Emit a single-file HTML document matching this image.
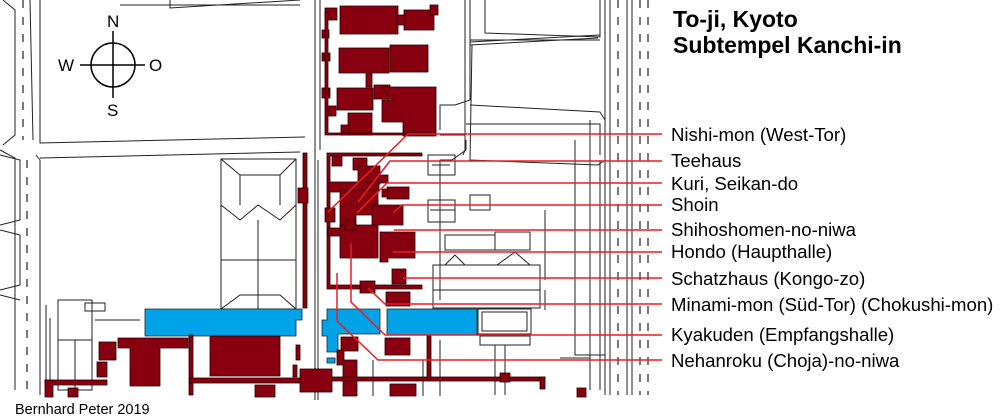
<!DOCTYPE html>
<html><head><meta charset="utf-8"><style>
html,body{margin:0;padding:0;background:#fff}
svg{display:block}
text{font-family:"Liberation Sans",Arial,sans-serif}
</style></head><body>
<svg width="1000" height="419" viewBox="0 0 1000 419" xmlns="http://www.w3.org/2000/svg">
<rect width="1000" height="419" fill="#fff"/>
<g fill="none" stroke="#222" stroke-width="1">
<path d="M3 0L15 10V135L3 145M30 0L33 140M40 0V143L305 137"/>
<path d="M0 150L15 158V390M36 155L40 160V395"/>
<path d="M40 158L300 152"/>
<path d="M0 155L20 160V220L0 225M0 230L20 235V285L0 290M0 295L20 300"/>
<path d="M315 0V400M320 0V150M318 160V400"/>
<path d="M470 0V100L455 105H440V130M465 0V135H440"/>
<path d="M470 45L598 38M470 42L600 35"/>
<path d="M470 40L600 40M470 105L600 112L605 120V160L598 165L470 160L472 45"/>
<path d="M485 0V33L600 37V0"/>
<path d="M466 140V150L452 160H440V300"/>
<path d="M465 125V150L463 155"/>
<path d="M466 124H600V155"/>
<path d="M590 120V390M600 160V390"/>
<path d="M605 0V395M610 0V395M627 0V395M632 0V395"/>
<path d="M170 0V8L300 0M120 5H300"/>
<path d="M221 159H296V309H221Z M221 159L240 175H280L296 159M221 205L240 220L258 205L280 220L296 205M240 175V205M258 220V309M280 175V205M221 260H296M221 309L240 295H280L296 309"/>
<path d="M58 300H92V340H58Z M58 340H92V390H58ZM75 340V390M95 320H140M50 318V395M46 305V395"/>
<path d="M428 155H455V175H428ZM432 165H450"/>
<path d="M428 200H455V222H428Z M470 195H490V210H470Z M430 210H455"/>
<path d="M445 235H495V250H445ZM495 232H530V250H495Z"/>
<path d="M433 265H540V308H433ZM433 290H540M445 265L455 255L465 265M497 265L515 252L530 265"/>
<path d="M478 309H531V334H478ZM482 312H527V331H482Z"/>
<path d="M480 336H530V345H480ZM505 345V395M495 345V395"/>
<path d="M545 210V280M545 290V310"/>
<path d="M575 140V355H605"/>
<path d="M560 358H590"/>
<path d="M85 303H105V311H85Z"/>
<path d="M423 360V396M440 340V396M373 360V396"/>
</g>
<g stroke="#222" stroke-width="1.2" stroke-dasharray="8,9" fill="none">
<path d="M618 0V395M640 0V395M648 0V395M23 0V140M27 160V395"/>
</g>
<g fill="#00a2e8" stroke="#222" stroke-width="0.8">
<path d="M145 309H302V320L296 320V336H145Z"/>
<path d="M327 309H380V334H338V352H327V336L322 336V320L327 320Z"/>
<rect x="387" y="309" width="90" height="26"/>
<rect x="327" y="358" width="8" height="5"/>
</g>
<g fill="#880010" stroke="#2a0000" stroke-width="0.8">
<rect x="340" y="6" width="58" height="28"/>
<rect x="404" y="10" width="30" height="20"/>
<rect x="397" y="15" width="8" height="10"/>
<rect x="325" y="8" width="12" height="12"/>
<rect x="430" y="5" width="8" height="10"/>
<rect x="339" y="48" width="50" height="25"/>
<rect x="390" y="45" width="38" height="27"/>
<rect x="366" y="72" width="6" height="15"/>
<rect x="337" y="88" width="36" height="22"/>
<rect x="374" y="85" width="16" height="14"/>
<path d="M382 87H436V136H403V122H382V100H392Z"/>
<rect x="348" y="113" width="24" height="22"/>
<rect x="341" y="125" width="8" height="10"/>
<rect x="322" y="30" width="7" height="8"/>
<rect x="322" y="53" width="8" height="8"/>
<rect x="322" y="88" width="8" height="10"/>
<rect x="328" y="106" width="8" height="10"/>
<path d="M325 12V135H436V133H328V12Z"/>
<path d="M327 153H422V156H330V285H422V289H327Z"/>
<rect x="332" y="156" width="10" height="10"/>
<rect x="353" y="158" width="14" height="12"/>
<rect x="358" y="166" width="22" height="18"/>
<rect x="378" y="175" width="10" height="8"/>
<rect x="329" y="182" width="50" height="10"/>
<path d="M340 190H378V215H356V228H340Z"/>
<rect x="387" y="187" width="22" height="12"/>
<rect x="382" y="189" width="6" height="8"/>
<path d="M372 205H403V225H372Z"/>
<rect x="325" y="208" width="10" height="14"/>
<path d="M340 225H378V258H340Z"/>
<path d="M345 220H355V230H345Z"/>
<rect x="328" y="228" width="12" height="8"/>
<path d="M380 232H415V258H388V262H380Z"/>
<rect x="392" y="269" width="14" height="15"/>
<rect x="360" y="281" width="15" height="12"/>
<rect x="386" y="292" width="24" height="14"/>
<rect x="303" y="153" width="4" height="155"/>
<rect x="298" y="188" width="10" height="15"/>
<rect x="341" y="337" width="17" height="14"/>
<rect x="337" y="350" width="7" height="15"/>
<rect x="343" y="360" width="14" height="36"/>
<rect x="300" y="369" width="32" height="23"/>
<rect x="385" y="338" width="25" height="17"/>
<rect x="210" y="336" width="70" height="40"/>
<rect x="189" y="335" width="4" height="60"/>
<path d="M118 338H188V348H160V386H130V348H118Z"/>
<rect x="190" y="378" width="110" height="5"/>
<rect x="296" y="345" width="4" height="15"/>
<rect x="293" y="365" width="4" height="12"/>
<rect x="99" y="342" width="17" height="18"/>
<rect x="97" y="362" width="10" height="15"/>
<rect x="45" y="380" width="62" height="5"/>
<rect x="45" y="380" width="8" height="17"/>
<rect x="68" y="388" width="10" height="9"/>
<rect x="255" y="385" width="20" height="12"/>
<rect x="332" y="377" width="213" height="4"/>
<rect x="427" y="335" width="4" height="45"/>
<rect x="500" y="373" width="10" height="9"/>
<rect x="540" y="377" width="5" height="12"/>
<rect x="390" y="384" width="26" height="12"/>
<rect x="577" y="388" width="9" height="9"/>
</g>
<g fill="none" stroke="#000" stroke-width="1.5">
<circle cx="113" cy="65" r="22"/>
<path d="M113 31V98M80 65H145"/>
</g>
<g font-size="17" fill="#000">
<text x="107" y="27">N</text>
<text x="58" y="71">W</text>
<text x="149" y="71">O</text>
<text x="107" y="116">S</text>
</g>
<g fill="none" stroke="#ee1c24" stroke-width="1.5">
<path d="M328 212L408 134H662"/>
<path d="M358 202L390 161H662"/>
<path d="M357 213L387 183H662"/>
<path d="M393 213L402 205H662"/>
<path d="M394 230H662"/>
<path d="M393 252H662"/>
<path d="M403 278H662"/>
<path d="M368 288L385 304H662"/>
<path d="M351 243V302L385 335H662"/>
<path d="M337 273V321L378 360H662"/>
</g>
<g font-size="18.6" fill="#000">
<text x="671" y="141">Nishi-mon (West-Tor)</text>
<text x="671" y="167">Teehaus</text>
<text x="671" y="190">Kuri, Seikan-do</text>
<text x="671" y="211">Shoin</text>
<text x="671" y="236">Shihoshomen-no-niwa</text>
<text x="671" y="258">Hondo (Haupthalle)</text>
<text x="671" y="285">Schatzhaus (Kongo-zo)</text>
<text x="671" y="311">Minami-mon (Süd-Tor) (Chokushi-mon)</text>
<text x="671" y="341">Kyakuden (Empfangshalle)</text>
<text x="671" y="367">Nehanroku (Choja)-no-niwa</text>
</g>
<g font-size="23" font-weight="bold" fill="#000">
<text x="673" y="27">To-ji, Kyoto</text>
<text x="673" y="53">Subtempel Kanchi-in</text>
</g>
<text x="15" y="414" font-size="14.5" fill="#000">Bernhard Peter 2019</text>
</svg>
</body></html>
